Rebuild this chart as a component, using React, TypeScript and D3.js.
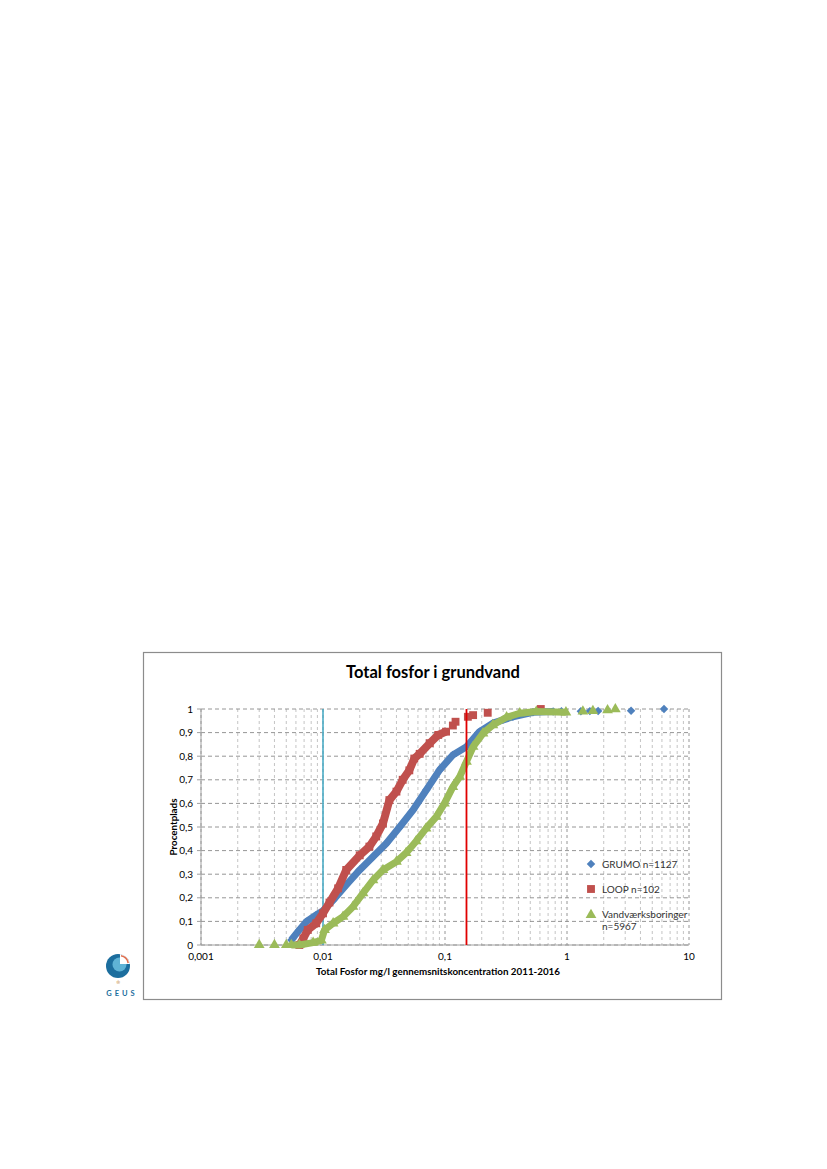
import * as d3 from 'd3'

// concentration (mg/l) and cumulative fraction
const grumoC = [0.0055, 0.0064, 0.0073, 0.0088, 0.01, 0.0121, 0.0155, 0.02, 0.0257, 0.033, 0.0425, 0.0547, 0.0703, 0.0904, 0.116, 0.15, 0.192, 0.247, 0.36, 0.526, 0.77]
const grumoP = [0.021, 0.064, 0.099, 0.127, 0.145, 0.19, 0.254, 0.318, 0.374, 0.43, 0.5, 0.572, 0.657, 0.742, 0.805, 0.84, 0.904, 0.94, 0.967, 0.986, 0.989]
const grumoTailC = [0.9, 1.3, 1.54, 1.8, 3.35, 6.24]
const grumoTailP = [0.99, 0.99, 0.991, 0.992, 0.993, 1.0]

const loopC = [0.0064, 0.0069, 0.0075, 0.0088, 0.01, 0.0113, 0.0133, 0.0155, 0.02, 0.024, 0.0273, 0.031, 0.035, 0.04, 0.045, 0.051, 0.056, 0.062, 0.075, 0.088, 0.102]
const loopP = [0.0, 0.028, 0.064, 0.092, 0.134, 0.18, 0.24, 0.318, 0.38, 0.417, 0.46, 0.515, 0.614, 0.65, 0.7, 0.74, 0.79, 0.81, 0.855, 0.89, 0.904]
const loopTailC = [0.116, 0.122, 0.154, 0.17, 0.224, 0.61]
const loopTailP = [0.93, 0.946, 0.967, 0.974, 0.984, 1.0]

const vandC = [0.0055, 0.0064, 0.0083, 0.0097, 0.0103, 0.0121, 0.0146, 0.0176, 0.0213, 0.0257, 0.031, 0.04, 0.048, 0.058, 0.07, 0.085, 0.099, 0.116, 0.132, 0.15, 0.17, 0.205, 0.247, 0.32, 0.41, 0.56, 0.98]
const vandP = [0.0, 0.0, 0.01, 0.02, 0.064, 0.092, 0.12, 0.162, 0.22, 0.275, 0.318, 0.353, 0.39, 0.44, 0.494, 0.544, 0.6, 0.67, 0.713, 0.777, 0.84, 0.897, 0.932, 0.965, 0.982, 0.989, 0.986]
const vandZeroC = [0.003, 0.004, 0.005]
const vandTailC = [1.35, 1.63, 2.15, 2.49]
const vandTailP = [0.99, 0.992, 0.995, 0.999]

const xTicks = [0.001, 0.01, 0.1, 1, 10]
const xTickLabels = ['0,001', '0,01', '0,1', '1', '10']
const yTicks = [0, 0.1, 0.2, 0.3, 0.4, 0.5, 0.6, 0.7, 0.8, 0.9, 1]

const BLUE = '#4f81bd'
const RED = '#c0504d'
const GREEN = '#9bbb59'
const FONT = 'Lato, "Open Sans", sans-serif'

const zip = (c: number[], p: number[]) => c.map((v, i) => [v, p[i]] as [number, number])

export default function App() {
  const x = d3.scaleLog().domain([0.001, 10]).range([201, 689])
  const y = d3.scaleLinear().domain([0, 1]).range([945, 709])

  const minor: number[] = []
  for (let d = 0.001; d < 10; d *= 10) {
    for (let k = 2; k <= 9; k++) minor.push(+(d * k).toPrecision(3))
  }

  const line = d3.line<[number, number]>().x(d => x(d[0])).y(d => y(d[1]))
  const diamond = d3.symbol().type(d3.symbolDiamond2).size(46)()
  const square = d3.symbol().type(d3.symbolSquare).size(62)()
  const triangle = d3.symbol().type(d3.symbolTriangle).size(50)()

  const grumo = zip(grumoC, grumoP)
  const loop = zip(loopC, loopP)
  const vand = zip(vandC, vandP)
  const grumoAll = grumo.concat(zip(grumoTailC, grumoTailP))
  const loopAll = loop.concat(zip(loopTailC, loopTailP))
  const vandAll = vand.concat(zip(vandTailC, vandTailP), vandZeroC.map(c => [c, 0] as [number, number]))

  return (
    <svg width={827} height={1169} style={{ position: 'absolute', left: 0, top: 0, background: '#fff' }} fontFamily={FONT}>
      <rect x={143.5} y={652.5} width={578} height={347} fill="#fff" stroke="#8c8c8c" strokeWidth={1.2} />

      <text x={433} y={678} textAnchor="middle" fontSize={16.5} fontWeight="bold" fill="#000">Total fosfor i grundvand</text>

      {/* grid */}
      {minor.map(v => (
        <line key={'m' + v} x1={x(v)} x2={x(v)} y1={y(1)} y2={y(0)} stroke="#b5b5b5" strokeDasharray="3,3" strokeWidth={0.8} />
      ))}
      {xTicks.map(v => (
        <line key={'M' + v} x1={x(v)} x2={x(v)} y1={y(1)} y2={y(0)} stroke="#8a8a8a" strokeDasharray="3,3" strokeWidth={0.9} />
      ))}
      {yTicks.map(v => (
        <line key={'h' + v} x1={x(0.001)} x2={x(10)} y1={y(v)} y2={y(v)} stroke="#8a8a8a" strokeDasharray="4,3" strokeWidth={0.9} />
      ))}
      <line x1={x(0.001)} x2={x(10)} y1={y(0)} y2={y(0)} stroke="#a0a0a0" strokeWidth={1} />
      <line x1={x(0.001)} x2={x(0.001)} y1={y(0)} y2={y(1)} stroke="#a0a0a0" strokeWidth={1} />
      {yTicks.map(v => (
        <line key={'yt' + v} x1={x(0.001) - 4} x2={x(0.001)} y1={y(v)} y2={y(v)} stroke="#a0a0a0" />
      ))}

      {yTicks.map(v => (
        <text key={'yl' + v} x={193} y={y(v) + 3.5} textAnchor="end" fontSize={10} fill="#000">
          {String(v).replace('.', ',')}
        </text>
      ))}
      {xTicks.map((v, i) => (
        <text key={'xl' + v} x={x(v)} y={960} textAnchor="middle" fontSize={10} fill="#000">{xTickLabels[i]}</text>
      ))}

      <text x={438} y={975} textAnchor="middle" fontSize={9.8} fontWeight="bold" fill="#000">
        Total Fosfor mg/l gennemsnitskoncentration 2011-2016
      </text>
      <text transform={`translate(177,${y(0.5)}) rotate(-90)`} textAnchor="middle" fontSize={9.8} fontWeight="bold" fill="#000">
        Procentplads
      </text>

      <line x1={x(0.01)} x2={x(0.01)} y1={y(1)} y2={y(0)} stroke="#4bacc6" strokeWidth={1.6} />

      {/* series */}
      <path d={line(grumo) ?? ''} fill="none" stroke={BLUE} strokeWidth={7} strokeLinejoin="round" />
      {grumoAll.map((d, i) => (
        <path key={'g' + i} d={diamond ?? ''} transform={`translate(${x(d[0])},${y(d[1])})`} fill={BLUE} />
      ))}
      <path d={line(loop) ?? ''} fill="none" stroke={RED} strokeWidth={8} strokeLinejoin="miter" />
      {loopAll.map((d, i) => (
        <path key={'l' + i} d={square ?? ''} transform={`translate(${x(d[0])},${y(d[1])})`} fill={RED} />
      ))}
      <path d={line(vand) ?? ''} fill="none" stroke={GREEN} strokeWidth={7} strokeLinejoin="round" />
      {vandAll.map((d, i) => (
        <path key={'v' + i} d={triangle ?? ''} transform={`translate(${x(d[0])},${y(d[1])})`} fill={GREEN} />
      ))}

      <line x1={x(0.15)} x2={x(0.15)} y1={y(1)} y2={y(0)} stroke="#e00000" strokeWidth={1.8} />

      {/* legend */}
      <path d={diamond ?? ''} transform="translate(591,864)" fill={BLUE} />
      <text x={602} y={867.5} fontSize={10} fill="#333">GRUMO n=1127</text>
      <path d={square ?? ''} transform="translate(591,889)" fill={RED} />
      <text x={602} y={892.5} fontSize={10} fill="#333">LOOP n=102</text>
      <path d={triangle ?? ''} transform="translate(591,915)" fill={GREEN} />
      <text x={602} y={917.5} fontSize={10} fill="#333">Vandværksboringer</text>
      <text x={602} y={930} fontSize={10} fill="#333">n=5967</text>

      {/* GEUS logo */}
      <g>
        <circle cx={118} cy={966} r={12} fill="#1c6e9e" />
        <circle cx={119.5} cy={964.5} r={7} fill="#5fb3d6" />
        <path d="M120,954 A12,12 0 0 1 130,964 L120,964 Z" fill="#fff" />
        <path d="M121,955.8 A9,9 0 0 1 128.2,963" fill="none" stroke="#e07050" strokeWidth={1.6} />
        <text x={118} y={984} textAnchor="middle" fontSize={5} fill="#c08030">♔</text>
        <text x={122} y={996} textAnchor="middle" fontSize={7.5} fontWeight="bold" fill="#1c6e9e" letterSpacing={3}>GEUS</text>
      </g>
    </svg>
  )
}
